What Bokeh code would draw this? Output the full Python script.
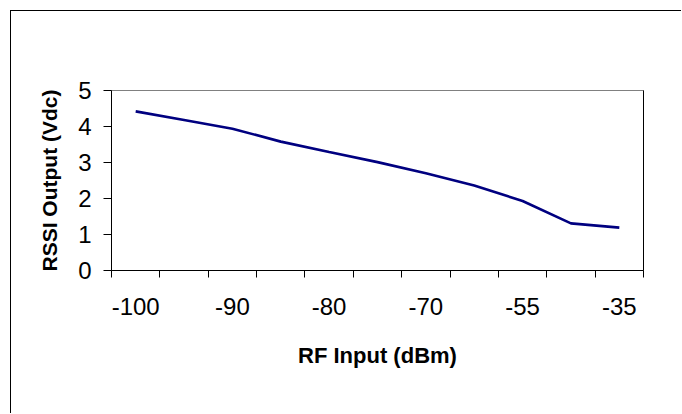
from bokeh.plotting import figure
from bokeh.models import Range1d, FixedTicker, LinearAxis
from bokeh.embed import file_html
from bokeh.resources import INLINE

# ---- data ----
rf_input = [-100, -95, -90, -85, -80, -75, -70, -60, -55, -45, -35]
rssi_output = [4.42, 4.18, 3.94, 3.58, 3.29, 3.01, 2.70, 2.36, 1.93, 1.31, 1.19]
label_every = 2
y_ticks = [0, 1, 2, 3, 4, 5]

FONT = "Liberation Sans"

n = len(rf_input)
xs = [i + 0.5 for i in range(n)]

p = figure(width=671, height=403, output_backend="svg", toolbar_location=None,
           x_range=Range1d(0, n), y_range=Range1d(0, 5),
           min_border_left=100, min_border_right=39, min_border_top=79, min_border_bottom=144)
p.styles = {"margin-left": "10px", "margin-top": "10px",
            "border-left": "1px solid #000000", "border-top": "1px solid #000000"}

p.background_fill_color = "white"
p.border_fill_color = "white"
p.grid.visible = False
p.outline_line_color = "#808080"
p.outline_line_width = 1

p.line(xs, rssi_output, line_color="#000080", line_width=2.6)

# x axis
label_pos = [xs[i] for i in range(0, n, label_every)]
xax = p.xaxis[0]
xax.ticker = FixedTicker(ticks=label_pos, minor_ticks=list(range(0, n + 1)))
xax.major_label_overrides = {xs[i]: str(rf_input[i]) for i in range(0, n, label_every)}
xax.major_tick_line_color = None
xax.major_tick_out = 7
xax.major_tick_in = 0
xax.minor_tick_out = 7
xax.minor_tick_in = 0
xax.minor_tick_line_color = "#000000"
xax.axis_line_color = "#000000"
xax.major_label_text_font = FONT
xax.major_label_text_font_size = "24px"
xax.major_label_text_color = "#000000"
xax.major_label_standoff = 20
xax.axis_label = "RF Input (dBm)"
xax.axis_label_text_font = FONT
xax.axis_label_text_font_size = "22px"
xax.axis_label_text_font_style = "bold"
xax.axis_label_text_color = "#000000"
xax.axis_label_standoff = 25

# y axis
yax = p.yaxis[0]
yax.ticker = FixedTicker(ticks=y_ticks)
yax.minor_tick_line_color = None
yax.major_tick_out = 8
yax.major_tick_in = 0
yax.major_tick_line_color = "#000000"
yax.axis_line_color = "#000000"
yax.major_label_text_font = FONT
yax.major_label_text_font_size = "24px"
yax.major_label_text_color = "#000000"
yax.major_label_standoff = 12
yax.axis_label = "RSSI Output (Vdc)"
yax.axis_label_text_font = FONT
yax.axis_label_text_font_size = "21px"
yax.axis_label_text_font_style = "bold"
yax.axis_label_text_color = "#000000"
yax.axis_label_standoff = 14

# right border of plot area in black
rax = LinearAxis(ticker=FixedTicker(ticks=[]), axis_line_color="#000000",
                 major_tick_line_color=None, minor_tick_line_color=None,
                 major_label_text_font_size="0px")
p.add_layout(rax, "right")

open("out.html", "w").write(file_html(p, INLINE))
